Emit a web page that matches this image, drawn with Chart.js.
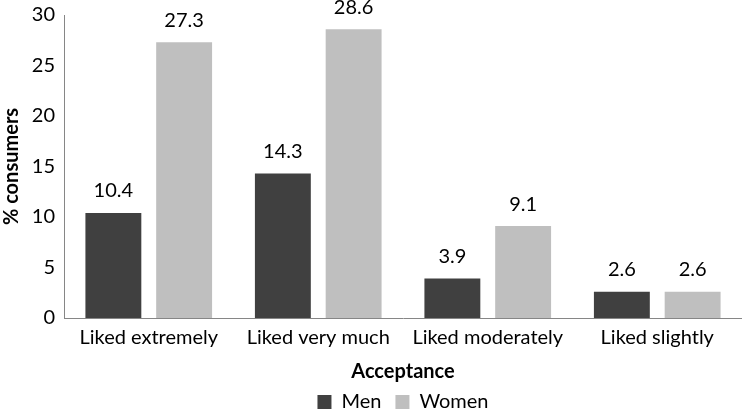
<!DOCTYPE html>
<html>
<head>
<meta charset="utf-8">
<script src="https://cdn.jsdelivr.net/npm/chart.js@4"></script>
<style>
    html, body { margin: 0; padding: 0; background: #fff; }
    #wrap { width: 742px; height: 412px; }
</style>
</head>
<body>
<div id="wrap"><canvas id="chart" width="742" height="412"></canvas></div>
<script>
// Chart data
const categories = ['Liked extremely', 'Liked very much', 'Liked moderately', 'Liked slightly'];
const menValues = [10.4, 14.3, 3.9, 2.6];
const womenValues = [27.3, 28.6, 9.1, 2.6];
const yTicks = [0, 5, 10, 15, 20, 25, 30];

const FONT = 'Lato, "Liberation Sans", sans-serif';
const FS = 20;
const axisColor = '#868686';

// draws the value above each bar
const valueLabels = {
    id: 'valueLabels',
    afterDatasetsDraw(chart) {
        const ctx = chart.ctx;
        ctx.save();
        ctx.font = FS + 'px ' + FONT;
        ctx.fillStyle = '#000';
        ctx.textAlign = 'center';
        ctx.textBaseline = 'bottom';
        chart.data.datasets.forEach((ds, i) => {
            chart.getDatasetMeta(i).data.forEach((bar, j) => {
                ctx.fillText(ds.data[j].toFixed(1), bar.x, bar.y - 12);
            });
        });
        ctx.restore();
    }
};

const ctx = document.getElementById('chart').getContext('2d');
new Chart(ctx, {
    type: 'bar',
    data: {
        labels: categories,
        datasets: [{
            label: 'Men',
            data: menValues,
            backgroundColor: '#404040'
        }, {
            label: 'Women',
            data: womenValues,
            backgroundColor: '#bfbfbf'
        }]
    },
    options: {
        responsive: false,
        animation: false,
        layout: { padding: { top: 15, right: 0, left: 0, bottom: -10 } },
        datasets: {
            bar: { categoryPercentage: 0.835, barPercentage: 0.79 }
        },
        plugins: {
            legend: {
                position: 'bottom',
                fullSize: false,
                labels: {
                    font: { size: FS, family: FONT },
                    color: '#000',
                    boxWidth: 14,
                    boxHeight: 14,
                    padding: 14
                }
            },
            tooltip: { enabled: false }
        },
        scales: {
            x: {
                afterFit(axis) { axis.height = 60; },
                grid: { display: false, drawTicks: false },
                border: { color: axisColor, width: 1 },
                ticks: {
                    font: { size: FS, family: FONT },
                    color: '#000',
                    padding: 8
                },
                title: {
                    display: true,
                    text: 'Acceptance',
                    font: { size: FS, family: FONT, weight: 'bold' },
                    color: '#000',
                    padding: { top: 4, bottom: -6 }
                }
            },
            y: {
                min: 0,
                max: 30,
                afterBuildTicks(axis) {
                    axis.ticks = yTicks.map(v => ({ value: v }));
                },
                afterFit(axis) {
                    axis.width = 64;
                    axis.paddingTop = 0;
                    axis.paddingBottom = 0;
                },
                grid: { display: false, drawTicks: false },
                border: { color: axisColor, width: 1 },
                ticks: {
                    font: { size: FS, family: FONT },
                    color: '#000',
                    padding: 9
                },
                title: {
                    display: true,
                    text: '% consumers',
                    font: { size: FS, family: FONT, weight: 'bold' },
                    color: '#000',
                    padding: 0
                }
            }
        }
    },
    plugins: [valueLabels]
});
</script>
</body>
</html>
